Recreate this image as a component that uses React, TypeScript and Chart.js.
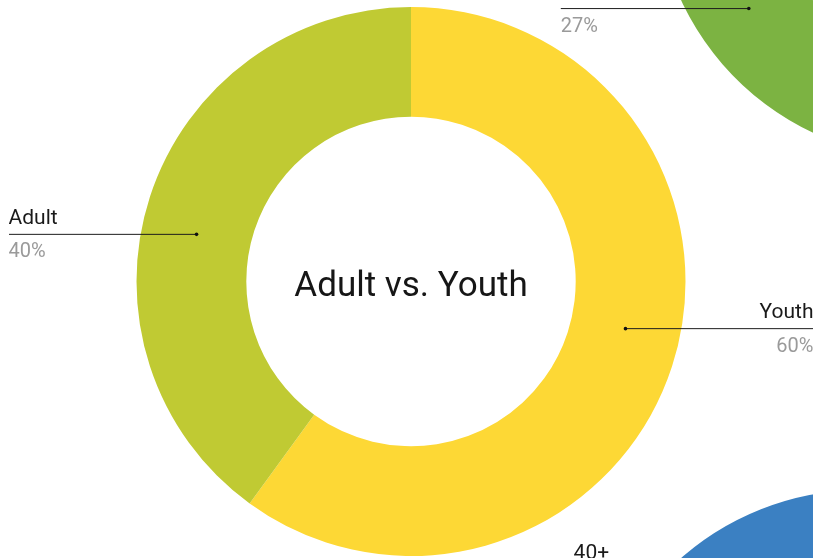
import React, { useEffect, useRef } from "react";
import { Chart, registerables } from "chart.js";

Chart.register(...registerables);

const FONT = "Roboto, 'Noto Sans', 'DejaVu Sans', sans-serif";

// Main chart: Adult vs. Youth
const ageTitle = "Adult vs. Youth";
const ageCategories = ["Youth", "Adult"];
const ageValues = [60, 40];
const ageColors = ["#FDD835", "#C0CA33"];

// Neighbouring chart (top right, mostly outside the view)
const visitCategories = ["Returning", "New", "Members"];
const visitValues = [53.5, 27, 19.5];
const visitColors = ["#43A047", "#7CB342", "#9CCC65"];

// Neighbouring chart (bottom right, mostly outside the view)
const ageBandCategories = ["Under 25", "25-39", "40+"];
const ageBandValues = [48, 40, 12];
const ageBandColors = ["#1E88E5", "#64B5F6", "#3B80C2"];

const LINE_LEN = 188;
const ANGLE_SHIFT = (-5.6 * Math.PI) / 180;

type DonutProps = {
  left: number;
  top: number;
  width: number;
  height: number;
  labels: string[];
  values: number[];
  colors: string[];
  title?: string;
};

function Donut(props: DonutProps) {
  const ref = useRef<HTMLCanvasElement>(null);
  const { labels, values, colors, title } = props;

  useEffect(() => {
    if (!ref.current) return;
    const total = values.reduce((a, b) => a + b, 0);
    const labelPlugin = {
      id: "outLabels",
      afterDatasetsDraw(chart: any) {
        const ctx = chart.ctx as CanvasRenderingContext2D;
        const meta = chart.getDatasetMeta(0);
        meta.data.forEach((arc: any, i: number) => {
          const { x, y, startAngle, endAngle, innerRadius, outerRadius } = arc.getProps(
            ["x", "y", "startAngle", "endAngle", "innerRadius", "outerRadius"],
            true
          );
          const mid = (startAngle + endAngle) / 2 + ANGLE_SHIFT;
          const r = (innerRadius + outerRadius) / 2;
          const px = x + Math.cos(mid) * r;
          const py = y + Math.sin(mid) * r;
          const right = Math.cos(mid) >= 0;
          const ex = right ? px + LINE_LEN : px - LINE_LEN;
          ctx.save();
          ctx.strokeStyle = "#1c1c1c";
          ctx.lineWidth = 1;
          ctx.beginPath();
          ctx.moveTo(px, py);
          ctx.lineTo(ex, py);
          ctx.stroke();
          ctx.fillStyle = "#111";
          ctx.beginPath();
          ctx.arc(px, py, 1.8, 0, Math.PI * 2);
          ctx.fill();
          ctx.textAlign = right ? "right" : "left";
          ctx.textBaseline = "alphabetic";
          ctx.font = `21px ${FONT}`;
          ctx.fillStyle = "#1a1a1a";
          ctx.fillText(labels[i], ex, py - 10.5);
          ctx.font = `20px ${FONT}`;
          ctx.fillStyle = "#9a9a9a";
          ctx.fillText(Math.round((values[i] / total) * 100) + "%", ex, py + 23);
          ctx.restore();
        });
        if (title && meta.data.length) {
          const c = meta.data[0];
          ctx.save();
          ctx.font = `35px ${FONT}`;
          ctx.fillStyle = "#161616";
          ctx.textAlign = "center";
          ctx.textBaseline = "alphabetic";
          ctx.fillText(title, c.x, c.y + 14.3);
          ctx.restore();
        }
      },
    };

    const chart = new Chart(ref.current, {
      type: "doughnut",
      data: {
        labels,
        datasets: [
          {
            data: values,
            backgroundColor: colors,
            borderWidth: 0,
            hoverOffset: 0,
            offset: 0,
          },
        ],
      },
      options: {
        animation: false,
        responsive: true,
        maintainAspectRatio: false,
        cutout: "60%",
        events: [],
        layout: { padding: 0 },
        plugins: {
          legend: { display: false },
          tooltip: { enabled: false },
        },
      },
      plugins: [labelPlugin],
    } as any);
    return () => chart.destroy();
  }, []);

  return (
    <div
      style={{
        position: "absolute",
        left: props.left,
        top: props.top,
        width: props.width,
        height: props.height,
      }}
    >
      <canvas ref={ref} />
    </div>
  );
}

export default function App() {
  return (
    <div
      style={{
        position: "fixed",
        left: 0,
        top: 0,
        width: 813,
        height: 558,
        overflow: "hidden",
        background: "#ffffff",
      }}
    >
      <Donut
        left={528}
        top={-390}
        width={804}
        height={549}
        labels={visitCategories}
        values={visitValues}
        colors={visitColors}
      />
      <Donut
        left={460}
        top={490}
        width={804}
        height={549}
        labels={ageBandCategories}
        values={ageBandValues}
        colors={ageBandColors}
      />
      <Donut
        left={9}
        top={7}
        width={804}
        height={549}
        labels={ageCategories}
        values={ageValues}
        colors={ageColors}
        title={ageTitle}
      />
    </div>
  );
}
